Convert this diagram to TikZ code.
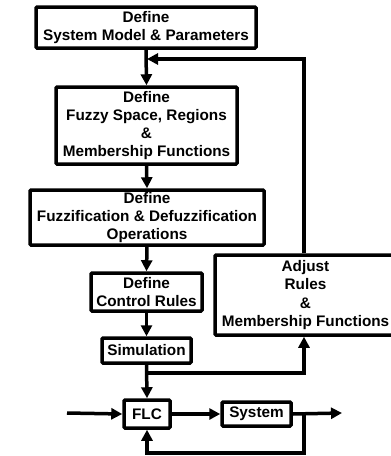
\documentclass[tikz,border=0pt]{standalone}
\usepackage{fontspec}
\setmainfont{Liberation Sans}
\usetikzlibrary{arrows.meta}
\begin{document}
\begin{tikzpicture}[x=1pt,y=1pt,
  box/.style={draw, line width=3.5pt, rounded corners=1pt, align=center, inner sep=0pt,
    font=\fontsize{15.3}{18.3}\selectfont\bfseries},
  conn/.style={line width=3.5pt},
  arr/.style={conn, -{Triangle[length=11pt,width=11pt]}}]
\useasboundingbox (0,0) rectangle (391,-456);
\node[box, minimum width=220, minimum height=41] (b1) at (146,-27.5) {Define\\System Model \& Parameters};
\node[box, minimum width=181, minimum height=77] (b2) at (146.5,-125.5) {Define\\Fuzzy Space, Regions\\\&\\Membership Functions};
\node[box, minimum width=234, minimum height=55] (b3) at (147,-217.5) {Define\\Fuzzification \& Defuzzification\\Operations};
\node[box, minimum width=111, minimum height=38] (b4) at (146.5,-292) {Define\\Control Rules};
\node[box, minimum width=89, minimum height=25] (sim) at (146.5,-350.5) {Simulation};
\node[box, minimum width=181, minimum height=80] (adj) at (305.5,-295) {Adjust\\Rules\\\&\\Membership Functions};
\node[box, minimum width=46, minimum height=28] (flc) at (147,-414) {FLC};
\node[box, minimum width=69, minimum height=24] (sys) at (256.5,-414) {System};
\coordinate (fb) at (304,-295);
\coordinate (j1) at (147,-59);
\coordinate (j2) at (147,-373);
\coordinate (in) at (67,-413);
\coordinate (out) at (342,-413);
\coordinate (tap) at (304,-414);
\coordinate (bot) at (304,-453);
\draw[arr] (b1.south) -- (b2.north);
\draw[arr] (fb |- adj.north) |- (j1);
\draw[arr] (b2.south) -- (b3.north);
\draw[arr] (b3.south) -- (b4.north);
\draw[arr] (b4.south) -- (sim.north);
\draw[arr] (sim.south) -- (flc.north);
\draw[arr] (j2) -| (fb |- adj.south);
\draw[arr] (in) -- (flc.west);
\draw[arr] (flc.east) -- (sys.west);
\draw[arr] (sys.east) -- (out);
\draw[arr] (tap) -- (bot) -| (flc.south);
\end{tikzpicture}
\end{document}
